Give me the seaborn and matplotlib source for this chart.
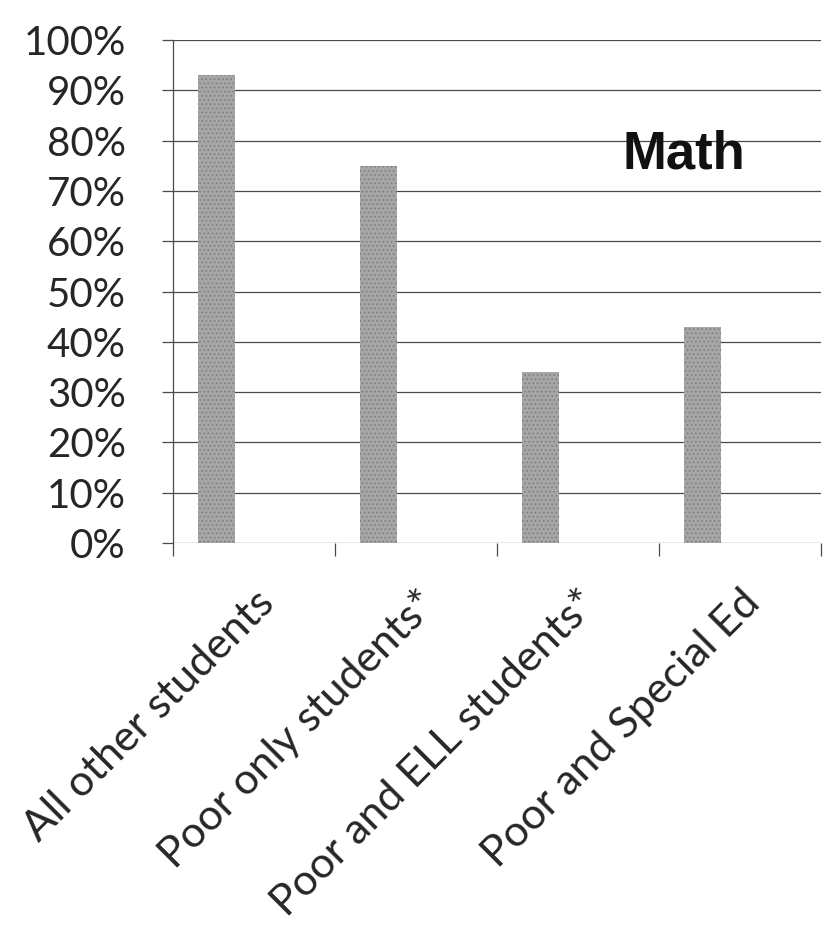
import matplotlib
matplotlib.use("Agg")
import matplotlib.pyplot as plt
import matplotlib.ticker as mticker
import numpy as np
import pandas as pd
import seaborn as sns

# values (percent of students)
groups = ["All other students", "Poor only students*",
          "Poor and ELL students*", "Poor and Special Ed"]
math_pct = [93, 75, 34, 43]
y_ticks = list(range(0, 101, 10))

df = pd.DataFrame({"group": groups, "pct": math_pct})

sns.set_theme(style="white")
plt.rcParams["font.family"] = ["Lato", "DejaVu Sans"]
plt.rcParams["hatch.linewidth"] = 0.6

fig = plt.figure(figsize=(8.25, 9.3), dpi=100)
ax = fig.add_axes([0.2097, 0.416, 0.7855, 0.541])

sns.barplot(data=df, x="group", y="pct", color="#a6a6a6", width=0.23,
            saturation=1, edgecolor="#7a7a7a", linewidth=0, hatch="....",
            ax=ax)

# bars sit left of the category centre (first slot of a clustered chart)
bar_shift = -0.23
for p in ax.patches:
    p.set_x(p.get_x() + bar_shift)

ax.set_xlim(-0.5, len(groups) - 0.5)
ax.set_ylim(0, 100)
ax.set_yticks(y_ticks)
ax.yaxis.set_major_formatter(mticker.PercentFormatter(xmax=100, decimals=0))
ax.set_axisbelow(True)
ax.yaxis.grid(True, color="#4a4a4a", lw=0.9)

for side in ["top", "right", "bottom"]:
    ax.spines[side].set_visible(False)
ax.spines["left"].set_color("#4a4a4a")
ax.spines["left"].set_linewidth(0.9)

# category boundary ticks below the axis
ax.set_xticks(np.arange(-0.5, len(groups), 1.0), minor=True)
ax.tick_params(axis="x", which="minor", direction="out", length=9,
               width=0.9, color="#4a4a4a", bottom=True)
ax.tick_params(axis="x", which="major", length=0, pad=29, labelsize=31)
ax.tick_params(axis="y", direction="out", length=8, width=0.9,
               color="#4a4a4a", pad=26, labelsize=29, left=True)

for lab in ax.get_xticklabels():
    lab.set_rotation(45)
    lab.set_rotation_mode("anchor")
    lab.set_ha("right")
    lab.set_va("top")

ax.set_xlabel("")
ax.set_ylabel("")

ax.text(0.694, 0.745, "Math", transform=ax.transAxes, fontsize=38,
        fontweight="bold", family=["Liberation Sans", "DejaVu Sans"],
        va="baseline", ha="left", color="#111111")

fig.savefig("out.png", dpi=100)
